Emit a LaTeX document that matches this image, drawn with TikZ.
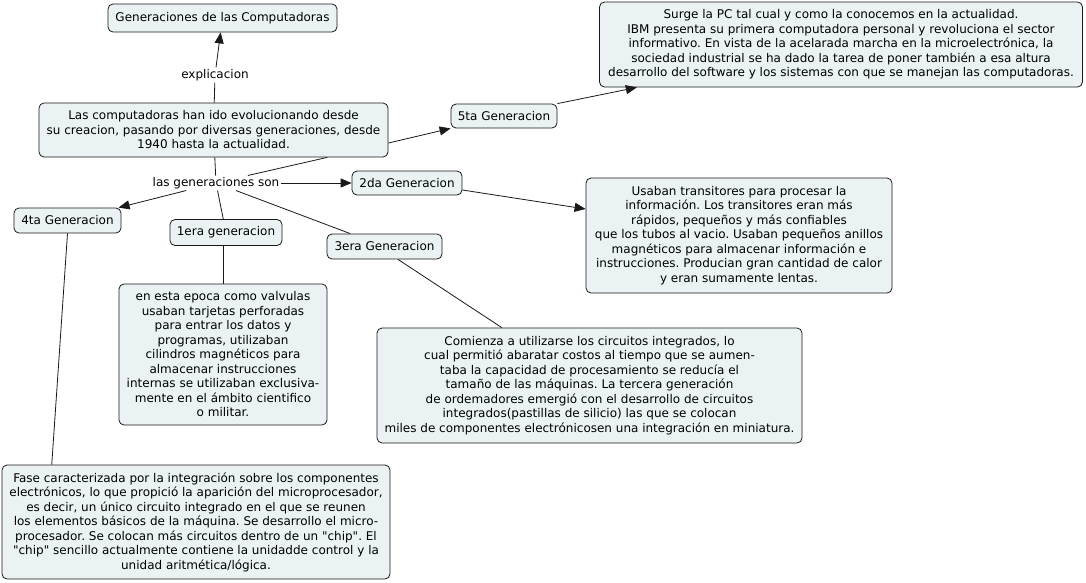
\documentclass[tikz,border=0pt]{standalone}
\usepackage{fontspec}
\setmainfont{DejaVu Sans}
\usetikzlibrary{arrows.meta,calc}
\definecolor{boxfill}{RGB}{234,242,244}
\definecolor{edgecol}{RGB}{25,25,25}
\newcommand\fsz{\fontsize{12}{14.5}\selectfont}
\frenchspacing
\begin{document}
\begin{tikzpicture}[x=1pt,y=-1pt,
  box/.style={draw=edgecol, fill=boxfill, rounded corners=5pt, line width=0.8pt, align=center, font=\fsz, inner sep=0pt},
  lab/.style={font=\fsz, fill=white, inner sep=1.5pt},
  conn/.style={draw=edgecol, line width=0.8pt},
  arr/.style={conn, -{Triangle[length=11pt,width=9pt]}}]
\fill[white] (0,0) rectangle (1086,582);
\useasboundingbox (0,0) rectangle (1086,582);

\node[box, minimum width=229pt, minimum height=28pt] (title) at (222.5,18) {Generaciones de las Computadoras};
\node[box, minimum width=349pt, minimum height=54pt] (main) at (213.5,130) {Las computadoras han ido evolucionando desde\\su creacion, pasando por diversas generaciones, desde\\1940 hasta la actualidad.};
\node[box, minimum width=106pt, minimum height=24pt] (fifth) at (504,116) {5ta Generacion};
\node[box, minimum width=483pt, minimum height=85pt] (surge) at (841,44.5) {Surge la PC tal cual y como la conocemos en la actualidad.\\IBM presenta su primera computadora personal y revoluciona el sector\\informativo. En vista de la acelarada marcha en la microelectrónica, la\\sociedad industrial se ha dado la tarea de poner también a esa altura\\desarrollo del software y los sistemas con que se manejan las computadoras.};
\node[box, minimum width=110pt, minimum height=24pt] (second) at (407,183) {2da Generacion};
\node[box, minimum width=306pt, minimum height=115pt] (usaban) at (739,235.5) {Usaban transitores para procesar la\\información. Los transitores eran más\\rápidos, pequeños y más confiables\\que los tubos al vacio. Usaban pequeños anillos\\magnéticos para almacenar información e\\instrucciones. Producian gran cantidad de calor\\y eran sumamente lentas.};
\node[box, minimum width=107pt, minimum height=25pt] (fourth) at (67.5,220.5) {4ta Generacion};
\node[box, minimum width=112pt, minimum height=26pt] (first) at (226,232.5) {1era generacion};
\node[box, minimum width=115pt, minimum height=25pt] (third) at (384.5,246.5) {3era Generacion};
\node[box, minimum width=208pt, minimum height=141pt] (enesta) at (223,354.5) {en esta epoca como valvulas\\usaban tarjetas perforadas\\para entrar los datos y\\programas, utilizaban\\cilindros magnéticos para\\almacenar instrucciones\\internas se utilizaban exclusiva-\\mente en el ámbito cientifico\\o militar.};
\node[box, minimum width=425pt, minimum height=115pt] (comienza) at (589.5,385.5) {Comienza a utilizarse los circuitos integrados, lo\\cual permitió abaratar costos al tiempo que se aumen-\\taba la capacidad de procesamiento se reducía el\\tamaño de las máquinas. La tercera generación\\de ordemadores emergió con el desarrollo de circuitos\\integrados(pastillas de silicio) las que se colocan\\miles de componentes electrónicosen una integración en miniatura.};
\node[box, minimum width=388pt, minimum height=114pt] (fase) at (196,522) {Fase caracterizada por la integración sobre los componentes\\electrónicos, lo que propició la aparición del microprocesador,\\es decir, un único circuito integrado en el que se reunen\\los elementos básicos de la máquina. Se desarrollo el micro-\\procesador. Se colocan más circuitos dentro de un \textquotedbl chip\textquotedbl. El\\\textquotedbl chip\textquotedbl\ sencillo actualmente contiene la unidadde control y la\\unidad aritmética/lógica.};

\node[lab] (expl) at (215,75) {explicacion};
\node[lab] (lgen) at (216,183) {las generaciones son};

\draw[conn] (main) -- (expl);
\draw[arr] (expl) -- (title);
\draw[conn] (main) -- (lgen);
\draw[conn] ($(main.south)!0.65!(main.south east)$) -- ($(lgen.north)!0.49!(lgen.north east)$);
\draw[conn] (lgen) -- (first);
\draw[arr] ([yshift=-13pt]main.east) -- (fifth.south west);
\draw[arr] (fifth.north east) -- ($(surge.south west)!0.078!(surge.south east)$);
\draw[arr] (lgen.east) -- (second.west);
\draw[arr] (lgen) -- (fourth);
\draw[conn] (lgen) -- (third);
\draw[arr] ([yshift=-7pt]second.east) -- ([yshift=26.5pt]usaban.west);
\draw[conn] (enesta.north |- first.south) -- (enesta.north);
\draw[conn] (fourth.south) -- ($(fase.north west)!0.129!(fase.north east)$);
\draw[conn] ([xshift=13.5pt]third.south) -- ($(comienza.north west)!0.294!(comienza.north east)$);
\end{tikzpicture}
\end{document}
